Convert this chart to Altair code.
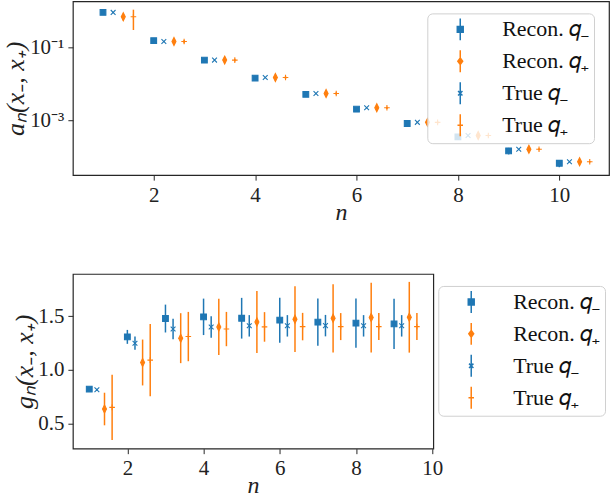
import altair as alt
import pandas as pd

# ---- data -------------------------------------------------------------
SERIES = ["Recon. 𝑞₋", "Recon. 𝑞₊", "True 𝑞₋", "True 𝑞₊"]
COLORS = ["#1f77b4", "#ff7f0e", "#1f77b4", "#ff7f0e"]
OFFSETS = [0.0, 0.4, 0.2, 0.6]

# a_n(x-, x+): n = 1..10
n_a = [1, 2, 3, 4, 5, 6, 7, 8, 9, 10]
a_rec_minus = [0.91, 0.153, 0.045, 0.0145, 0.0052, 0.00204, 0.00083, 0.000355, 0.000148, 0.0000677]
a_rec_minus_err = [0.03, 0.012, 0.003, 0.0012, 0.0005, 0.0003, 0.00013, 0.00006, 0.00003, 0.000015]
a_rec_plus = [0.69, 0.146, 0.045, 0.015, 0.0055, 0.00223, 0.00089, 0.00039, 0.000163, 0.000074]
a_rec_plus_err = [0.14, 0.02, 0.006, 0.002, 0.0007, 0.0003, 0.00012, 0.00005, 0.00002, 0.00001]
a_true_minus = [0.91, 0.146, 0.045, 0.015, 0.0055, 0.00223, 0.00089, 0.00039, 0.000163, 0.000074]
a_true_minus_err = [0.02, 0.004, 0.001, 0.0003, 0.0001, 0.00004, 0.00002, 0.000008, 0.000003, 0.0000015]
a_true_plus = [0.69, 0.146, 0.045, 0.015, 0.0055, 0.00223, 0.00089, 0.00039, 0.000163, 0.000074]
a_true_plus_err = [0.39, 0.015, 0.004, 0.0012, 0.0004, 0.00015, 0.00006, 0.00002, 0.00001, 0.000004]

# g_n(x-, x+): n = 1..9
n_g = [1, 2, 3, 4, 5, 6, 7, 8, 9]
g_rec_minus = [0.82, 1.307, 1.478, 1.494, 1.481, 1.463, 1.444, 1.435, 1.428]
g_rec_minus_err = [0.015, 0.065, 0.13, 0.17, 0.19, 0.21, 0.22, 0.23, 0.235]
g_rec_plus = [0.634, 1.068, 1.295, 1.40, 1.446, 1.472, 1.48, 1.487, 1.49]
g_rec_plus_err = [0.152, 0.214, 0.233, 0.262, 0.29, 0.307, 0.318, 0.325, 0.33]
g_true_minus = [0.814, 1.248, 1.38, 1.40, 1.41, 1.41, 1.412, 1.41, 1.41]
g_true_minus_err = [0.01, 0.062, 0.095, 0.10, 0.10, 0.10, 0.10, 0.10, 0.10]
g_true_plus = [0.649, 1.09, 1.31, 1.38, 1.40, 1.403, 1.403, 1.403, 1.403]
g_true_plus_err = [0.305, 0.338, 0.23, 0.16, 0.138, 0.128, 0.126, 0.126, 0.126]

# marker glyphs (unit box) and legend glyphs (marker + error line)
MARKERS = [
    "M-0.72,-0.72H0.72V0.72H-0.72Z",
    "M0,-1L0.5,0L0,1L-0.5,0Z",
    "M-0.6,-0.6L0.6,0.6M-0.6,0.6L0.6,-0.6",
    "M-0.7,0H0.7M0,-0.7V0.7",
]
LEGEND_GLYPHS = [
    "M0,-1V1M-0.27,-0.27H0.27V0.27H-0.27Z",
    "M0,-1V1M0,-0.3L0.22,0L0,0.3L-0.22,0Z",
    "M0,-1V1M-0.2,-0.2L0.2,0.2M-0.2,0.2L0.2,-0.2",
    "M0,-1V1M-0.25,0H0.25",
]

SERIF = "Liberation Serif"
INDEP = dict(fill="independent", stroke="independent", shape="independent")


def long_table(n, cols):
    rows = []
    for s, off, (vals, errs) in zip(SERIES, OFFSETS, cols):
        for ni, v, e in zip(n, vals, errs):
            rows.append({"n": ni, "series": s, "x": ni + off,
                         "value": v, "lo": v - e, "hi": v + e})
    return pd.DataFrame(rows)


df_a = long_table(n_a, [(a_rec_minus, a_rec_minus_err), (a_rec_plus, a_rec_plus_err),
                        (a_true_minus, a_true_minus_err), (a_true_plus, a_true_plus_err)])
df_g = long_table(n_g, [(g_rec_minus, g_rec_minus_err), (g_rec_plus, g_rec_plus_err),
                        (g_true_minus, g_true_minus_err), (g_true_plus, g_true_plus_err)])


def panel(df, xscale, xaxis, yscale, yaxis, legend_xy, width, height):
    base = alt.Chart(df)
    X = alt.X("x:Q", scale=xscale, axis=xaxis)
    Y = alt.Y("value:Q", scale=yscale, axis=yaxis)
    Ylo = alt.Y("lo:Q", scale=yscale, axis=yaxis)
    layers = []
    for s, c, m in zip(SERIES, COLORS, MARKERS):
        sel = base.transform_filter(alt.FieldEqualPredicate(field="series", equal=s))
        layers.append(sel.mark_rule(color=c, strokeWidth=1.5).encode(
            x=X, y=Ylo, y2="hi:Q"))
        layers.append(sel.mark_point(shape=m, size=64, filled=True, fill=c, stroke=c,
                                     strokeWidth=1.1, opacity=1).encode(x=X, y=Y))
    leg = alt.Legend(
        title=None, orient="none", legendX=legend_xy[0], legendY=legend_xy[1],
        fillColor="rgba(255,255,255,0.8)", strokeColor="#d0d0d0", cornerRadius=5,
        padding=4, symbolOffset=17, labelOffset=30, rowPadding=4,
        labelFont=SERIF, labelFontSize=22, labelColor="#111",
        symbolSize=484, symbolStrokeWidth=1.5, labelLimit=300,
    )
    key = base.transform_filter("datum.n < 0").mark_point(
        filled=True, strokeWidth=1.5, opacity=1).encode(
        x=X, y=Y,
        fill=alt.Fill("series:N", scale=alt.Scale(domain=SERIES, range=COLORS), legend=leg),
        stroke=alt.Stroke("series:N", scale=alt.Scale(domain=SERIES, range=COLORS), legend=leg),
        shape=alt.Shape("series:N", scale=alt.Scale(domain=SERIES, range=LEGEND_GLYPHS), legend=leg),
    )
    layers.append(key)
    return alt.layer(*layers).properties(width=width, height=height)


top = panel(
    df_a,
    alt.Scale(domain=[0.406, 10.98], nice=False, zero=False),
    alt.Axis(title="n", values=[2, 4, 6, 8, 10], format="d", titlePadding=-5),
    alt.Scale(type="log", domain=[3.2e-5, 1.82], nice=False),
    alt.Axis(title="aₙ(x₋, x₊)", values=[0.1, 0.001], titlePadding=1,
             labelExpr="datum.value > 0.01 ? '10⁻¹' : '10⁻³'"),
    (355, 12), 537, 174,
)

bottom = panel(
    df_g,
    alt.Scale(domain=[0.57, 10.03], nice=False, zero=False),
    alt.Axis(title="n", values=[2, 4, 6, 8, 10], format="d", titlePadding=-5),
    alt.Scale(domain=[0.264, 1.894], nice=False, zero=False),
    alt.Axis(title="gₙ(x₋, x₊)", values=[0.5, 1.0, 1.5], format=".1f", titlePadding=0),
    (366, 12), 361, 175,
)

chart = alt.vconcat(top, bottom, spacing=48).resolve_scale(**INDEP).resolve_legend(
    **INDEP
).properties(
    padding={"left": 2, "top": 0, "right": 0, "bottom": 0}
).configure_view(
    stroke="#262626", strokeWidth=1.2
).configure_axis(
    grid=False, domain=False,
    labelFont=SERIF, labelFontSize=21, labelColor="#222", labelPadding=4,
    tickColor="#262626", tickSize=5, tickWidth=1,
    titleFont=SERIF, titleFontSize=26, titleFontStyle="italic",
    titleFontWeight="normal", titleColor="#222",
).configure_axisX(
    titleFontSize=24,
)

chart.save("out.html", embed_options={"renderer": "svg", "actions": False})
